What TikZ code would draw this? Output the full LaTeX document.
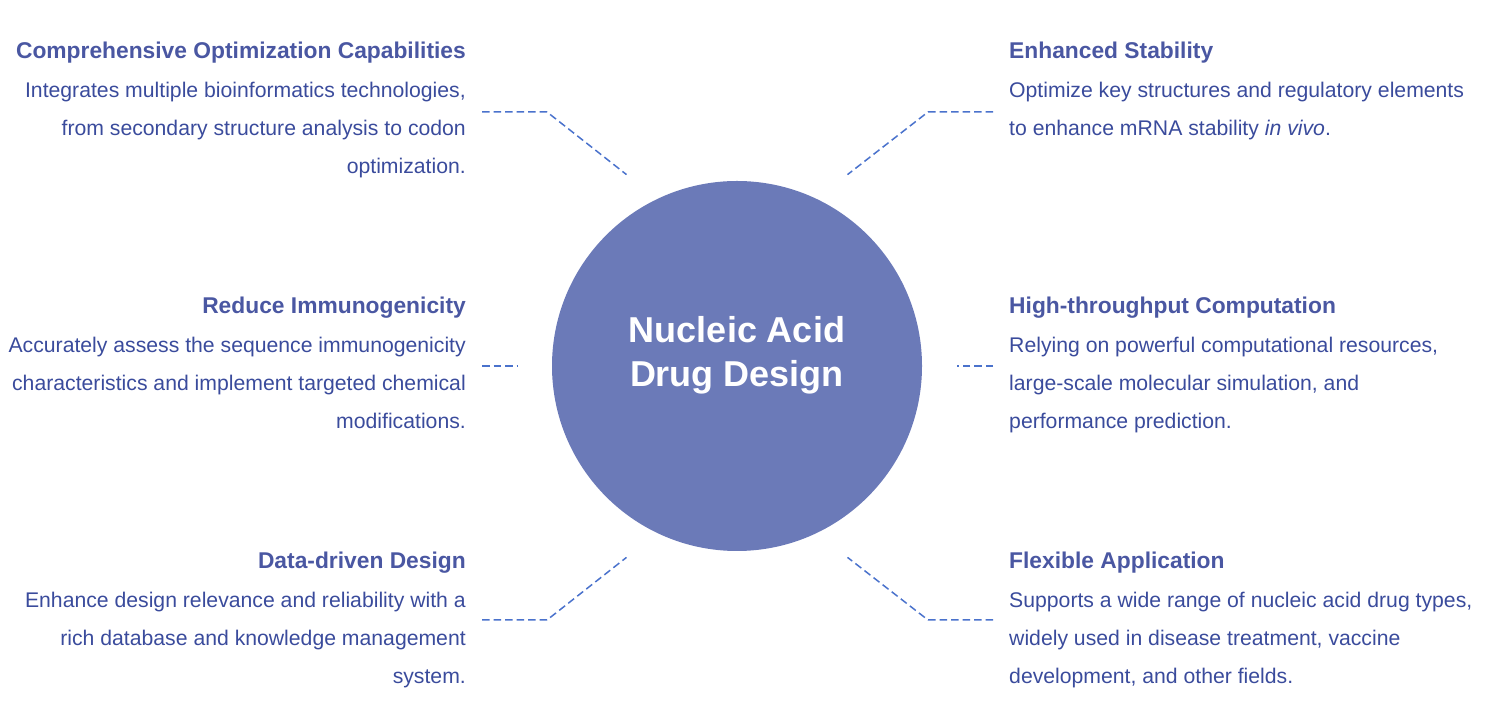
\documentclass[tikz,border=0pt]{standalone}
\usepackage{fontspec}
\setmainfont{Liberation Sans}
\usepackage{xcolor}
\usetikzlibrary{positioning,calc}

\definecolor{coreblue}{HTML}{6B7AB8}
\definecolor{headblue}{HTML}{4A57A2}
\definecolor{textblue}{HTML}{3A4B9C}
\definecolor{dashblue}{HTML}{4A72CC}

\begin{document}
\begin{tikzpicture}[
    x=1bp, y=1bp,
    core/.style={circle, fill=coreblue, minimum size=370bp, inner sep=0pt},
    coretext/.style={inner sep=0pt, text=white, align=center,
        font=\fontsize{36bp}{44bp}\selectfont\bfseries},
    head/.style={inner sep=0pt, text=headblue, font=\fontsize{22.8bp}{26bp}\selectfont\bfseries},
    body/.style={inner sep=0pt, text=textblue, font=\fontsize{21.2bp}{38bp}\selectfont},
    link/.style={dashblue, line width=1.5bp, dash pattern=on 7.5bp off 4bp}
]
    \useasboundingbox (0,0) rectangle (1487,727);

    \node[core] (core) at (737,361) {};
    \node[coretext] (coreT) at ([yshift=11bp]core.center) {Nucleic Acid\\Drug Design};

    % left column
    \node[head, anchor=base east] (compH) at (466,668) {Comprehensive Optimization Capabilities};
    \node[body, align=right, below=22.5bp of compH.base east, anchor=north east] (compT)
        {Integrates multiple bioinformatics technologies,\\from secondary structure analysis to codon\\optimization.};
    \node[head, anchor=base east] (immH) at (466,413) {Reduce Immunogenicity};
    \node[body, align=right, below=22.5bp of immH.base east, anchor=north east] (immT)
        {Accurately assess the sequence immunogenicity\\characteristics and implement targeted chemical\\modifications.};
    \node[head, anchor=base east] (dataH) at (466,158) {Data-driven Design};
    \node[body, align=right, below=22.5bp of dataH.base east, anchor=north east] (dataT)
        {Enhance design relevance and reliability with a\\rich database and knowledge management\\system.};

    % right column
    \node[head, anchor=base west] (stabH) at (1009,668) {Enhanced Stability};
    \node[body, align=left, below=22.5bp of stabH.base west, anchor=north west] (stabT)
        {Optimize key structures and regulatory elements\\to enhance mRNA stability \textit{in vivo}.};
    \node[head, anchor=base west] (compuH) at (1009,413) {High-throughput Computation};
    \node[body, align=left, below=22.5bp of compuH.base west, anchor=north west] (compuT)
        {Relying on powerful computational resources,\\large-scale molecular simulation, and\\performance prediction.};
    \node[head, anchor=base west] (flexH) at (1009,158) {Flexible Application};
    \node[body, align=left, below=22.5bp of flexH.base west, anchor=north west] (flexT)
        {Supports a wide range of nucleic acid drug types,\\widely used in disease treatment, vaccine\\development, and other fields.};

    % dashed leaders
    \coordinate (compE) at (482,615);
    \coordinate (immE) at (482,361);
    \coordinate (dataE) at (482,107);
    \coordinate (stabE) at (993,615);
    \coordinate (compuE) at (993,361);
    \coordinate (flexE) at (993,107);

    \draw[link] (compE) -- ++(65,0) -- ($(core.center)+(120:221)$);
    \draw[link] (immE) -- ($(core.center)+(180:220)$);
    \draw[link] (dataE) -- ++(65,0) -- ($(core.center)+(240:221)$);
    \draw[link] (stabE) -- ++(-65,0) -- ($(core.center)+(60:221)$);
    \draw[link] (compuE) -- ($(core.center)+(0:220)$);
    \draw[link] (flexE) -- ++(-65,0) -- ($(core.center)+(300:221)$);
\end{tikzpicture}
\end{document}
